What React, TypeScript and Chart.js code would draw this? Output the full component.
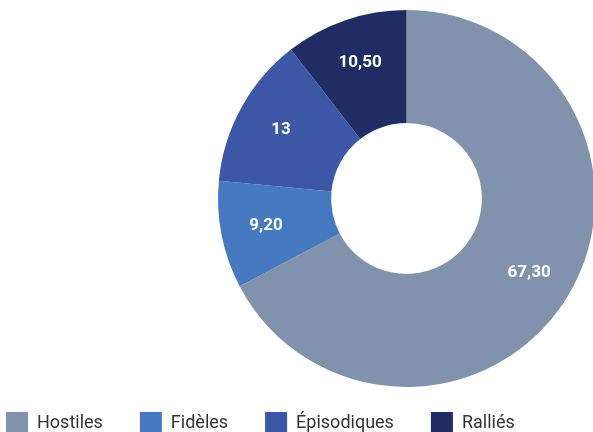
import React, { useEffect, useRef } from "react";
import { Chart, registerables } from "chart.js";

Chart.register(...registerables);

const categories = ["Hostiles", "Fidèles", "Épisodiques", "Ralliés"];
const values = [67.3, 9.2, 13, 10.5];
const colors = ["#8193AC", "#4679BF", "#3C57A5", "#1F2D64"];

const LEGEND_SHIFT = 12;
const LABEL_RADIUS_FRACTION = 0.6;

function formatValue(v: number): string {
  return Number.isInteger(v) ? String(v) : v.toFixed(2).replace(".", ",");
}

const sliceLabels = {
  id: "sliceLabels",
  afterDatasetsDraw(chart: any) {
    const ctx = chart.ctx;
    const meta = chart.getDatasetMeta(0);
    ctx.save();
    ctx.fillStyle = "#ffffff";
    ctx.font = "bold 17px Roboto, 'Noto Sans', sans-serif";
    ctx.textAlign = "center";
    ctx.textBaseline = "middle";
    meta.data.forEach((arc: any, i: number) => {
      const p = arc.getProps(["x", "y", "startAngle", "endAngle", "innerRadius", "outerRadius"], true);
      const mid = (p.startAngle + p.endAngle) / 2;
      const r = p.innerRadius + LABEL_RADIUS_FRACTION * (p.outerRadius - p.innerRadius);
      ctx.fillText(formatValue(values[i]), p.x + Math.cos(mid) * r, p.y + Math.sin(mid) * r);
    });
    ctx.restore();
  },
};

const legendShift = {
  id: "legendShift",
  afterLayout(chart: any) {
    const lg = chart.legend;
    if (lg) {
      lg.top -= LEGEND_SHIFT;
      lg.bottom -= LEGEND_SHIFT;
    }
  },
};

export default function App() {
  const ref = useRef<HTMLCanvasElement | null>(null);
  useEffect(() => {
    if (!ref.current) return;
    const chart = new Chart(ref.current, {
      type: "doughnut",
      data: {
        labels: categories,
        datasets: [
          {
            data: values,
            backgroundColor: colors,
            borderWidth: 0,
            hoverBorderWidth: 0,
            hoverOffset: 0,
            offset: 0,
            spacing: 0,
          },
        ],
      },
      options: {
        animation: false,
        responsive: true,
        maintainAspectRatio: false,
        cutout: "40%",
        layout: { padding: { top: 10, left: 0, right: 0, bottom: 0 } },
        plugins: {
          tooltip: { enabled: false },
          legend: {
            position: "bottom",
            align: "start",
            labels: {
              boxWidth: 22,
              boxHeight: 22,
              padding: 37,
              color: "#333333",
              font: { family: "Roboto, 'Noto Sans', sans-serif", size: 18 },
            },
          },
        },
      },
      plugins: [sliceLabels, legendShift],
    });
    return () => chart.destroy();
  }, []);

  return (
    <div
      style={{
        position: "fixed",
        left: 0,
        top: 0,
        width: 593,
        height: 432,
        overflow: "hidden",
        background: "#ffffff",
      }}
    >
      <div style={{ position: "absolute", left: -31, top: 0, width: 875, height: 456 }}>
        <canvas ref={ref} />
      </div>
    </div>
  );
}
